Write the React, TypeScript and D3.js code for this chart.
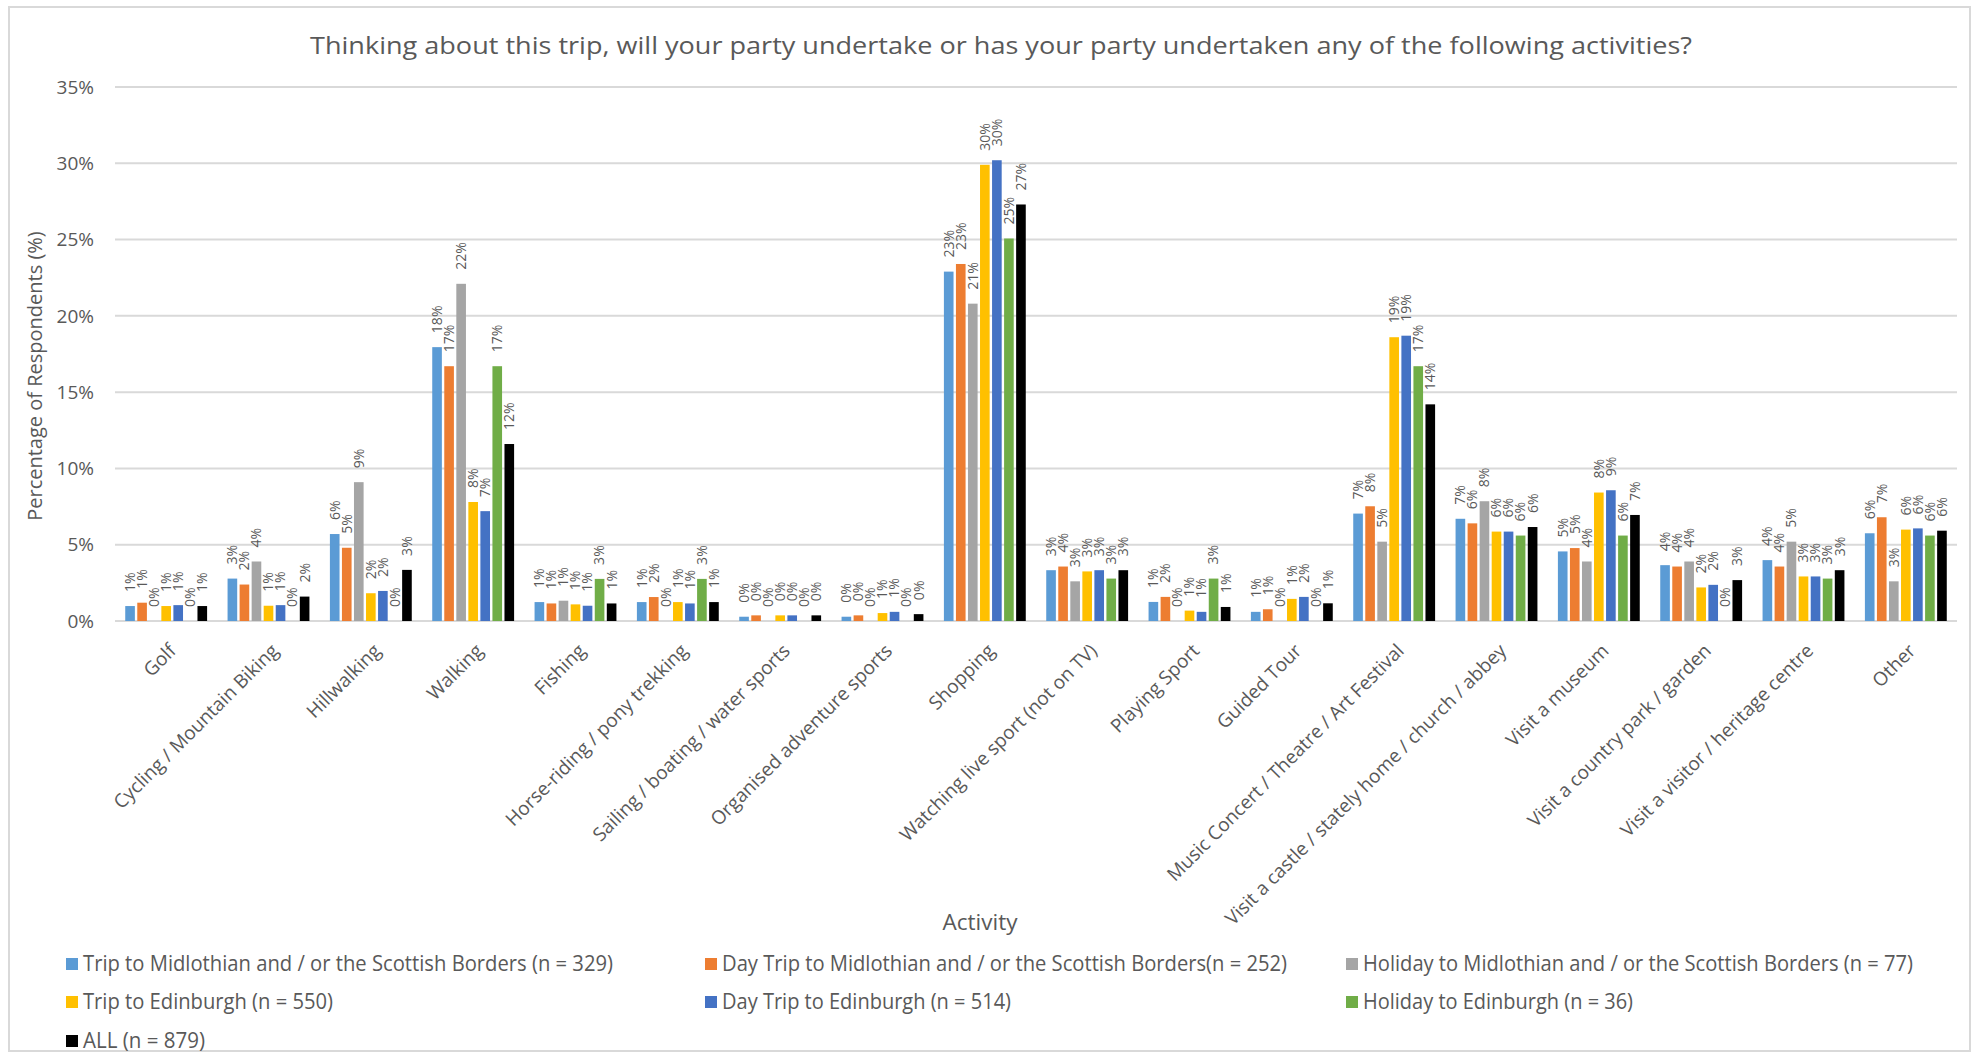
import React from "react";
import * as d3 from "d3";

const categories = [
  "Golf",
  "Cycling / Mountain Biking",
  "Hillwalking",
  "Walking",
  "Fishing",
  "Horse-riding / pony trekking",
  "Sailing / boating / water sports",
  "Organised adventure sports",
  "Shopping",
  "Watching live sport (not on TV)",
  "Playing Sport",
  "Guided Tour",
  "Music Concert / Theatre / Art Festival",
  "Visit a castle / stately home / church / abbey",
  "Visit a museum",
  "Visit a country park / garden",
  "Visit a visitor / heritage centre",
  "Other",
];

const seriesNames = [
  "Trip to Midlothian and / or the Scottish Borders (n = 329)",
  "Day Trip to Midlothian and / or the Scottish Borders(n = 252)",
  "Holiday to Midlothian and / or the Scottish Borders (n = 77)",
  "Trip to Edinburgh (n = 550)",
  "Day Trip to Edinburgh (n = 514)",
  "Holiday to Edinburgh (n = 36)",
  "ALL (n = 879)",
];

const seriesColors = ["#5B9BD5", "#ED7D31", "#A5A5A5", "#FFC000", "#4472C4", "#70AD47", "#000000"];

// values per category, in series order
const tripMidBorders = [0.98, 2.78, 5.7, 17.95, 1.24, 1.24, 0.28, 0.28, 22.9, 3.33, 1.25, 0.6, 7.04, 6.7, 4.56, 3.66, 3.99, 5.75];
const dayTripMidBorders = [1.2, 2.39, 4.8, 16.7, 1.15, 1.57, 0.37, 0.37, 23.4, 3.57, 1.58, 0.77, 7.52, 6.4, 4.78, 3.57, 3.57, 6.8];
const holidayMidBorders = [0, 3.9, 9.1, 22.1, 1.33, 0, 0, 0, 20.8, 2.6, 0, 0, 5.2, 7.85, 3.9, 3.9, 5.2, 2.6];
const tripEdinburgh = [0.98, 1.0, 1.82, 7.8, 1.09, 1.24, 0.37, 0.52, 29.9, 3.25, 0.68, 1.45, 18.6, 5.86, 8.42, 2.2, 2.92, 5.99];
const dayTripEdinburgh = [1.04, 1.04, 1.97, 7.2, 1.0, 1.15, 0.37, 0.6, 30.2, 3.33, 0.6, 1.58, 18.7, 5.86, 8.57, 2.37, 2.92, 6.07];
const holidayEdinburgh = [0, 0, 0, 16.7, 2.76, 2.76, 0, 0, 25.07, 2.78, 2.78, 0, 16.7, 5.6, 5.6, 0, 2.78, 5.6];
const allRespondents = [0.98, 1.6, 3.35, 11.6, 1.15, 1.24, 0.37, 0.45, 27.3, 3.33, 0.92, 1.16, 14.2, 6.16, 6.95, 2.68, 3.33, 5.92];

const seriesValues = [
  tripMidBorders,
  dayTripMidBorders,
  holidayMidBorders,
  tripEdinburgh,
  dayTripEdinburgh,
  holidayEdinburgh,
  allRespondents,
];

const yTicks = [0, 5, 10, 15, 20, 25, 30, 35];

const title =
  "Thinking about this trip, will your party undertake or has your party undertaken any of the following activities?";

const FONT = "'Open Sans', 'DejaVu Sans', sans-serif";
const TEXT = "#595959";
const GRID = "#D9D9D9";

export default function App() {
  const W = 1973;
  const H = 1055;
  const plotLeft = 115;
  const plotRight = 1957;

  const x0 = d3
    .scaleBand<string>()
    .domain(categories)
    .range([plotLeft, plotRight])
    .paddingInner(0.2)
    .paddingOuter(0.1);
  const x1 = d3
    .scaleBand<number>()
    .domain(d3.range(seriesNames.length))
    .range([0, x0.bandwidth()])
    .paddingInner(0.2);
  const y = d3.scaleLinear().domain([0, 35]).range([621, 87]);

  const legendCols = [66, 705, 1346];
  const legendRows = [964, 1002, 1041];
  const legendWidths = [530, 565, 550, 250, 289, 270, 122];

  return (
    <svg
      width={W}
      height={H}
      style={{ position: "absolute", left: 0, top: 0, background: "#fff" }}
      fontFamily={FONT}
    >
      <rect x={0} y={0} width={W} height={H} fill="#fff" />
      <rect x={9} y={7} width={1961} height={1044} fill="none" stroke={GRID} strokeWidth={2} />

      <text
        x={1001}
        y={54}
        textAnchor="middle"
        fontSize={24}
        fill={TEXT}
        textLength={1382}
        lengthAdjust="spacingAndGlyphs"
      >
        {title}
      </text>

      {yTicks.map((t) => (
        <g key={t}>
          <line x1={plotLeft} x2={plotRight} y1={y(t)} y2={y(t)} stroke={GRID} strokeWidth={2} />
          <text x={94} y={y(t)} dy="0.35em" textAnchor="end" fontSize={19} fill={TEXT}>
            {t}%
          </text>
        </g>
      ))}

      <text
        transform={`translate(42, 376) rotate(-90)`}
        textAnchor="middle"
        fontSize={20}
        fill={TEXT}
      >
        Percentage of Respondents (%)
      </text>

      {categories.map((c, ci) => {
        const gx = x0(c)!;
        return (
          <g key={c}>
            {seriesValues.map((vals, si) => {
              const v = vals[ci];
              const bx = gx + x1(si)!;
              const bw = x1.bandwidth();
              const top = y(v);
              const cx = bx + bw / 2;
              return (
                <g key={si}>
                  {v > 0 && (
                    <rect x={bx} y={top} width={bw} height={y(0) - top} fill={seriesColors[si]} />
                  )}
                  <text
                    transform={`translate(${cx}, ${top - 14}) rotate(-90)`}
                    dy="0.35em"
                    fontSize={14}
                    fill={TEXT}
                  >
                    {Math.round(v)}%
                  </text>
                </g>
              );
            })}
            <text
              transform={`translate(${gx + x0.bandwidth() / 2 + 11}, 652) rotate(-45)`}
              textAnchor="end"
              fontSize={19}
              fill={TEXT}
            >
              {c}
            </text>
          </g>
        );
      })}

      <text
        x={980}
        y={930}
        textAnchor="middle"
        fontSize={21}
        fill={TEXT}
        textLength={75}
        lengthAdjust="spacingAndGlyphs"
      >
        Activity
      </text>

      {seriesNames.map((name, i) => {
        const col = i % 3;
        const row = Math.floor(i / 3);
        const lx = legendCols[col];
        const ly = legendRows[row];
        return (
          <g key={name}>
            <rect x={lx} y={ly - 6} width={12} height={12} fill={seriesColors[i]} />
            <text
              x={lx + 17}
              y={ly}
              dy="0.35em"
              fontSize={21}
              fill={TEXT}
              textLength={legendWidths[i]}
              lengthAdjust="spacingAndGlyphs"
            >
              {name}
            </text>
          </g>
        );
      })}
    </svg>
  );
}
